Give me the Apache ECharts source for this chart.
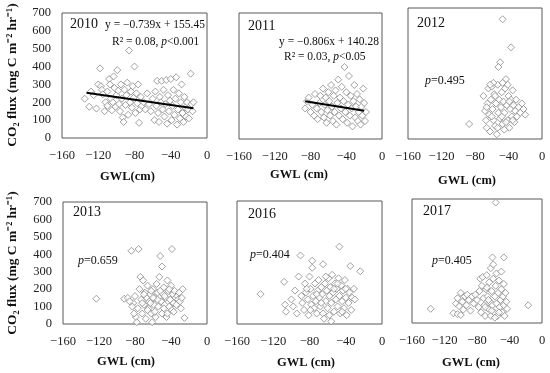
<!DOCTYPE html>
<html><head><meta charset="utf-8">
<script src="https://cdn.jsdelivr.net/npm/echarts@6/dist/echarts.min.js"></script>
<style>html,body{margin:0;padding:0;background:#fff}#c{width:550px;height:373px}</style>
</head><body><div id="c"></div>
<script>
const years = ['2010','2011','2012','2013','2016','2017'];
const xMin = -160, xMax = 0, xStep = 40;
const yMin = 0, yMax = 700, yStep = 100;

const pts2010 = [[-135,220],[-130,175],[-128,260],[-125,240],[-122,165],[-120,300],[-118,390],[-117,290],[-116,270],[-115,245],[-113,150],[-112,200],[-110,180],[-110,260],[-108,330],[-107,300],[-106,220],[-105,155],[-104,200],[-103,345],[-102,280],[-101,175],[-100,240],[-99,380],[-98,265],[-97,190],[-96,150],[-95,300],[-94,220],[-93,115],[-92,90],[-91,270],[-90,185],[-89,240],[-88,310],[-87,130],[-86,490],[-85,200],[-84,260],[-83,170],[-82,290],[-81,225],[-80,400],[-79,140],[-78,250],[-77,195],[-76,300],[-75,85],[-74,160],[-73,230],[-72,180],[-70,200],[-68,160],[-66,250],[-64,190],[-62,150],[-60,220],[-58,100],[-57,260],[-56,180],[-55,320],[-54,140],[-53,90],[-52,230],[-51,200],[-50,320],[-49,160],[-48,270],[-47,120],[-46,190],[-45,325],[-44,80],[-43,240],[-42,150],[-41,210],[-40,330],[-39,100],[-38,180],[-37,270],[-36,130],[-35,220],[-34,340],[-33,75],[-32,160],[-31,250],[-30,110],[-29,200],[-28,300],[-27,140],[-26,90],[-25,230],[-24,170],[-23,120],[-22,200],[-21,160],[-20,110],[-18,360],[-17,190],[-16,150],[-15,200]];
const pts2011 = [[-86,170],[-84,210],[-82,230],[-80,150],[-78,190],[-76,130],[-75,250],[-73,170],[-72,110],[-70,200],[-69,240],[-68,150],[-66,280],[-65,120],[-64,190],[-63,230],[-62,90],[-61,160],[-60,260],[-59,210],[-58,130],[-57,300],[-56,180],[-55,100],[-54,240],[-53,150],[-52,270],[-51,80],[-50,200],[-49,330],[-48,130],[-47,230],[-46,170],[-45,290],[-44,110],[-43,210],[-42,400],[-41,150],[-40,260],[-39,90],[-38,190],[-37,350],[-36,130],[-35,240],[-34,170],[-33,70],[-32,210],[-31,300],[-30,120],[-29,180],[-28,250],[-27,100],[-26,150],[-25,220],[-24,80],[-23,180],[-22,130],[-21,280],[-20,200],[-19,100],[-18,150]];
const pts2012 = [[-87,80],[-70,230],[-68,150],[-67,100],[-66,60],[-65,190],[-64,270],[-63,130],[-62,40],[-61,210],[-60,280],[-59,160],[-58,100],[-57,240],[-56,70],[-55,190],[-54,25],[-53,290],[-52,140],[-51,210],[-50,110],[-50,410],[-49,170],[-48,250],[-47,640],[-47,80],[-46,200],[-45,140],[-44,270],[-43,320],[-42,180],[-41,100],[-40,230],[-39,60],[-38,160],[-37,490],[-37,210],[-36,120],[-35,260],[-34,180],[-33,90],[-32,150],[-31,210],[-30,120],[-28,170],[-26,140],[-24,190],[-22,160],[-20,130],[-52,385],[-58,300],[-62,290],[-45,50],[-53,60],[-48,120],[-43,90],[-56,230],[-60,120],[-66,170],[-41,290],[-39,200],[-35,100],[-47,300]];
const pts2013 = [[-123,145],[-92,145],[-88,150],[-84,420],[-82,120],[-80,160],[-79,40],[-78,10],[-77,90],[-76,430],[-75,200],[-74,270],[-73,140],[-72,60],[-71,250],[-70,110],[-69,180],[-68,30],[-67,150],[-66,220],[-65,90],[-64,130],[-63,170],[-62,60],[-61,10],[-60,200],[-59,110],[-58,150],[-57,40],[-56,230],[-55,180],[-54,100],[-53,270],[-52,390],[-51,130],[-50,330],[-50,60],[-49,170],[-48,210],[-47,110],[-46,150],[-45,40],[-44,250],[-43,190],[-42,100],[-41,140],[-40,220],[-39,430],[-39,80],[-38,170],[-37,120],[-36,190],[-35,150],[-34,110],[-33,160],[-32,140],[-31,180],[-30,130],[-29,90],[-28,150],[-27,200],[-25,35],[-86,130],[-83,100],[-81,60],[-70,170],[-66,80],[-63,120],[-58,70],[-55,140],[-47,160],[-44,60],[-42,200],[-37,70],[-60,150],[-52,190],[-48,90],[-72,120],[-62,190]];
const pts2016 = [[-134,170],[-108,240],[-107,110],[-106,70],[-100,140],[-98,100],[-96,190],[-94,60],[-92,270],[-90,390],[-89,160],[-88,120],[-86,80],[-85,230],[-84,180],[-82,140],[-81,50],[-80,270],[-79,200],[-78,110],[-77,360],[-77,320],[-76,160],[-75,90],[-74,230],[-73,130],[-72,60],[-71,190],[-70,250],[-69,150],[-68,100],[-67,210],[-66,170],[-65,340],[-65,60],[-64,30],[-63,230],[-62,130],[-61,190],[-60,90],[-59,260],[-58,160],[-57,210],[-56,15],[-56,120],[-55,280],[-54,180],[-53,70],[-52,230],[-51,140],[-50,200],[-49,100],[-48,260],[-47,440],[-47,160],[-46,60],[-45,220],[-44,130],[-43,190],[-42,90],[-41,250],[-40,150],[-39,50],[-38,200],[-37,120],[-36,180],[-35,330],[-34,80],[-33,150],[-31,200],[-30,140],[-24,300],[-83,200],[-79,80],[-72,170],[-67,120],[-62,270],[-58,50],[-53,200],[-49,230],[-44,70],[-40,200]];
const pts2017 = [[-137,80],[-17,100],[-57,680],[-61,370],[-47,370],[-109,55],[-104,50],[-100,45],[-106,110],[-104,140],[-102,95],[-100,170],[-98,120],[-97,75],[-95,150],[-93,100],[-92,160],[-90,130],[-88,70],[-86,150],[-84,110],[-82,160],[-80,130],[-78,90],[-77,180],[-76,250],[-75,60],[-74,210],[-73,260],[-72,140],[-71,100],[-70,40],[-69,190],[-68,270],[-67,150],[-66,80],[-65,230],[-64,120],[-63,310],[-63,40],[-62,180],[-61,100],[-60,250],[-60,330],[-59,60],[-58,150],[-57,210],[-56,110],[-56,280],[-55,40],[-54,170],[-53,240],[-52,90],[-51,130],[-50,190],[-50,290],[-49,60],[-48,150],[-47,220],[-47,100],[-46,40],[-45,170],[-44,120],[-43,80],[-66,130],[-70,90],[-58,30],[-53,60],[-62,70],[-68,200]];
const allPts = [pts2010, pts2011, pts2012, pts2013, pts2016, pts2017];

// regression fits (2010, 2011)
const regSlope = [-0.739, -0.806];
const regIntercept = [155.45, 140.28];
const regXRange = [[-133, -15], [-86, -20]];

const FONT = 'Liberation Serif';
const grids = [
  {left:62, top:13, width:145, height:125},
  {left:239, top:13, width:143, height:126},
  {left:408, top:8, width:134, height:131},
  {left:63, top:202, width:144, height:122},
  {left:237, top:201, width:145, height:123},
  {left:412, top:199, width:130, height:124}
];
const fmt = v => String(v).replace('-', '\u2212');

const option = {
  animation:false,
  backgroundColor:'#fff',
  grid: grids.map(g => Object.assign({show:true, borderColor:'#595959', borderWidth:1, backgroundColor:'transparent'}, g)),
  xAxis: grids.map((g,i) => ({
    gridIndex:i, type:'value', min:xMin, max:xMax, interval:xStep,
    axisLine:{show:false}, axisTick:{show:false}, splitLine:{show:false},
    axisLabel:{fontFamily:FONT, fontSize:12.5, color:'#222', margin:11, formatter:fmt}
  })),
  yAxis: grids.map((g,i) => ({
    gridIndex:i, type:'value', min:yMin, max:yMax, interval:yStep,
    axisLine:{show:false}, axisTick:{show:false}, splitLine:{show:false},
    axisLabel:{show:(i===0||i===3), fontFamily:FONT, fontSize:12.5, color:'#222', margin:11}
  })),
  series: [],
  graphic: []
};

allPts.forEach((pts,i) => {
  option.series.push({
    type:'scatter', xAxisIndex:i, yAxisIndex:i, data:pts,
    symbol:'diamond', symbolSize:7,
    itemStyle:{color:'#ffffff', borderColor:'#8a8a8a', borderWidth:1}
  });
});
regSlope.forEach((s,i) => {
  option.series.push({
    type:'line', xAxisIndex:i, yAxisIndex:i, symbol:'none',
    lineStyle:{color:'#000', width:2},
    data: regXRange[i].map(x => [x, s*x + regIntercept[i]]),
    z:5
  });
});

function txt(x, y, text, opts) {
  option.graphic.push(Object.assign({
    type:'text', left:x, top:y,
    style:Object.assign({text:text, font:'13px "Liberation Serif"', fill:'#111',
      rich:{i:{fontStyle:'italic', fontFamily:FONT, fontSize:opts&&opts.fs||12, fill:'#111'}}}, opts&&opts.style)
  }));
}
const s12 = {style:{font:'12px "Liberation Serif"'}, fs:12};
const s11 = {style:{font:'11.5px "Liberation Serif"'}, fs:11.5};
// year labels
txt(70, 17, '2010', {style:{font:'14px "Liberation Serif"'}});
txt(248, 19, '2011', {style:{font:'14px "Liberation Serif"'}});
txt(417, 16, '2012', {style:{font:'14px "Liberation Serif"'}});
txt(73, 205, '2013', {style:{font:'14px "Liberation Serif"'}});
txt(248, 207, '2016', {style:{font:'14px "Liberation Serif"'}});
txt(423, 204, '2017', {style:{font:'14px "Liberation Serif"'}});
// equations
txt(105, 19, 'y = \u22120.739x + 155.45', s11);
txt(112, 36, 'R\u00b2 = 0.08, {i|p}<0.001', s11);
txt(279, 36, 'y = \u22120.806x + 140.28', s11);
txt(284, 51, 'R\u00b2 = 0.03, {i|p}<0.05', s11);
txt(425, 75, '{i|p}=0.495', s12);
txt(78, 255, '{i|p}=0.659', s12);
txt(250, 249, '{i|p}=0.404', s12);
txt(432, 255, '{i|p}=0.405', s12);
// x axis titles
const bold = {style:{font:'bold 12.5px "Liberation Serif"'}};
txt(100, 170, 'GWL(cm)', bold);
txt(270, 168, 'GWL (cm)', bold);
txt(438, 174, 'GWL (cm)', bold);
txt(97, 355, 'GWL (cm)', bold);
txt(277, 356, 'GWL (cm)', bold);
txt(442, 356, 'GWL (cm)', bold);
// y axis titles
[75, 263].forEach(cy => {
  option.graphic.push({
    type:'text', x:13, y:cy, rotation:Math.PI/2,
    style:{text:'CO\u2082 flux (mg C m\u207b\u00b2 hr\u207b\u00b9)', font:'bold 13.5px "Liberation Serif"', fill:'#111',
      textAlign:'center', textVerticalAlign:'middle'}
  });
});

const chart = echarts.init(document.getElementById('c'), null, {renderer:'canvas'});
chart.setOption(option);
</script></body></html>
